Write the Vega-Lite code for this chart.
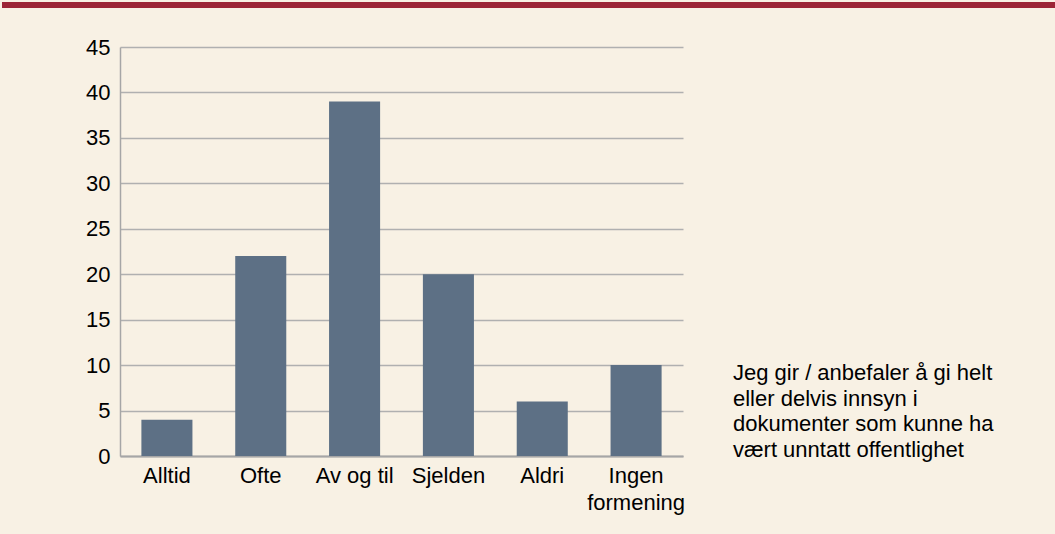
{
  "$schema": "https://vega.github.io/schema/vega-lite/v6.json",
  "background": "#F8F1E4",
  "padding": {"left": 0, "top": 0, "right": 0, "bottom": 34},
  "spacing": 26,
  "config": {
    "font": "Liberation Sans",
    "view": {"stroke": null},
    "axis": {"labelFont": "Liberation Sans", "labelColor": "#000000", "labelFontSize": 22}
  },
  "datasets": {
    "strip": [{"k": "a"}],
    "main": [
      {"kategori": "Alltid", "verdi": 4, "serie": "Jeg gir / anbefaler å gi helt eller delvis innsyn i dokumenter som kunne ha vært unntatt offentlighet"},
      {"kategori": "Ofte", "verdi": 22, "serie": "Jeg gir / anbefaler å gi helt eller delvis innsyn i dokumenter som kunne ha vært unntatt offentlighet"},
      {"kategori": "Av og til", "verdi": 39, "serie": "Jeg gir / anbefaler å gi helt eller delvis innsyn i dokumenter som kunne ha vært unntatt offentlighet"},
      {"kategori": "Sjelden", "verdi": 20, "serie": "Jeg gir / anbefaler å gi helt eller delvis innsyn i dokumenter som kunne ha vært unntatt offentlighet"},
      {"kategori": "Aldri", "verdi": 6, "serie": "Jeg gir / anbefaler å gi helt eller delvis innsyn i dokumenter som kunne ha vært unntatt offentlighet"},
      {"kategori": "Ingen formening", "verdi": 10, "serie": "Jeg gir / anbefaler å gi helt eller delvis innsyn i dokumenter som kunne ha vært unntatt offentlighet"}
    ]
  },
  "vconcat": [
    {
      "width": 937,
      "height": 6,
      "view": {"fill": "#9C2536", "stroke": null},
      "data": {"name": "strip"},
      "mark": {"type": "point", "opacity": 0},
      "encoding": {
        "y": {
          "field": "k",
          "type": "nominal",
          "axis": {"title": null, "labels": false, "domain": false, "grid": false, "ticks": true, "translate": 0, "tickSize": 115, "tickWidth": 6, "tickColor": "#9C2536", "tickCap": "square"}
        }
      }
    },
    {
      "width": 563,
      "height": 409,
      "data": {"name": "main"},
      "mark": {"type": "bar"},
      "encoding": {
        "x": {
          "field": "kategori",
          "type": "nominal",
          "sort": null,
          "scale": {"paddingInner": 0.456, "paddingOuter": 0.228},
          "axis": {
            "title": null,
            "labelAngle": 0,
            "ticks": false,
            "domain": true,
            "domainColor": "#A6A6A6",
            "domainWidth": 2,
            "labelPadding": 9,
            "labelLineHeight": 27,
            "labelExpr": "datum.value == 'Ingen formening' ? ['Ingen', 'formening'] : datum.label"
          }
        },
        "y": {
          "field": "verdi",
          "type": "quantitative",
          "scale": {"domain": [0, 45], "nice": false},
          "axis": {
            "title": null,
            "values": [0, 5, 10, 15, 20, 25, 30, 35, 40, 45],
            "ticks": false,
            "domain": true,
            "domainColor": "#A6A6A6",
            "domainWidth": 1.5,
            "grid": true,
            "gridColor": "#B0B0B0",
            "gridWidth": 1.5,
            "labelPadding": 10
          }
        },
        "color": {
          "field": "serie",
          "type": "nominal",
          "scale": {"range": ["#5D7085"]},
          "legend": {
            "orient": "none",
            "legendX": 591,
            "legendY": 360,
            "title": null,
            "symbolSize": 0,
            "symbolOpacity": 0,
            "symbolStrokeWidth": 0,
            "labelOffset": 0,
            "labelLimit": 0,
            "labelFont": "Liberation Sans",
            "labelFontSize": 22,
            "labelColor": "#000000",
            "labelExpr": "['Jeg gir / anbefaler å gi helt', 'eller delvis innsyn i', 'dokumenter som kunne ha', 'vært unntatt offentlighet']",
            "encode": {"labels": {"update": {"lineHeight": {"value": 25.5}}}}
          }
        }
      }
    }
  ]
}
